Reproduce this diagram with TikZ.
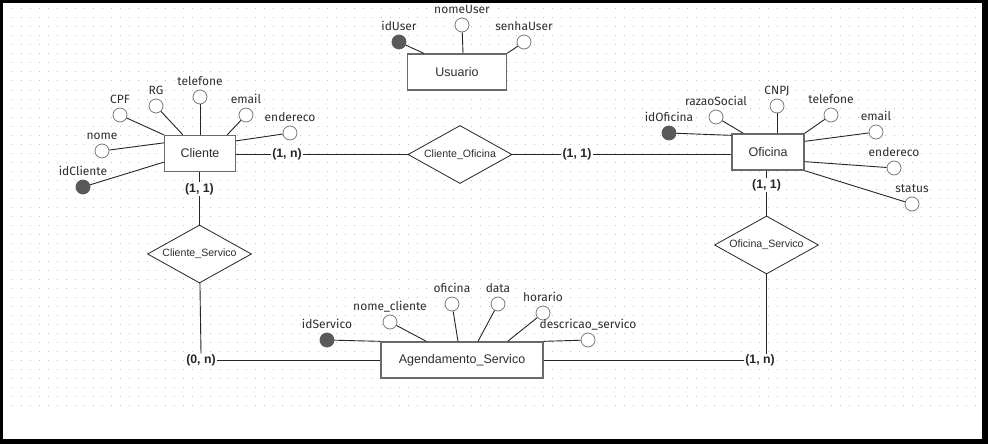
\documentclass[tikz,border=0pt]{standalone}
\usepackage{fontspec}
\setmainfont{Liberation Sans}
\newfontfamily\attrfont{Fira Sans}
\usepackage{tikz}
\usetikzlibrary{shapes.geometric}
\usetikzlibrary{positioning}

\definecolor{boxgray}{HTML}{6A6A6A}
\definecolor{circgray}{HTML}{7A7A7A}
\definecolor{keygray}{HTML}{595959}
\definecolor{txtgray}{HTML}{2E2E2E}
\definecolor{dotgray}{HTML}{C4C4C4}

\tikzset{
	entity/.style={rectangle, draw=boxgray, line width=1.3pt, fill=white, minimum height=36pt, text=txtgray, font=\fontsize{12.5}{14}\selectfont},
	relation/.style={diamond, draw=black!85, line width=0.8pt, fill=white, aspect=1.8, inner sep=0pt, minimum width=104pt, minimum height=58pt, text=txtgray, font=\fontsize{10.6}{12}\selectfont},
	attr/.style={circle, draw=circgray, line width=0.8pt, fill=white, inner sep=0pt, minimum size=14pt},
	keyattr/.style={attr, draw=keygray, fill=keygray},
	attrname/.style={inner sep=0pt, text height=9pt, text depth=3pt, text=txtgray, font=\attrfont\fontsize{12}{14}\selectfont},
	card/.style={fill=white, inner sep=1pt, text=black!85, font=\bfseries\fontsize{12.3}{14}\selectfont},
	edge/.style={draw=black!85, line width=0.9pt}
}

\begin{document}
\begin{tikzpicture}[x=1pt, y=-1pt]
		% frame and grid
		\useasboundingbox (0, 0) rectangle (988, 444);
		\fill[black] (0, 0) rectangle (988, 444);
		\fill[white] (3, 3) rectangle (982, 439);
		\foreach \y in {9, 18, ..., 405}
			\draw[dotgray, line width=1pt, dash pattern=on 1pt off 8pt] (11.8, \y) -- (977, \y);

		% entities
		\node[entity, minimum width=71pt] (cliente) at (200, 153.5) {Cliente};
		\node[entity, minimum width=99pt] (usuario) at (457, 72) {Usuario};
		\node[entity, minimum width=72pt] (oficina) at (768, 152) {Oficina};
		\node[entity, minimum width=162pt] (agend) at (462, 360) {Agendamento\_Servico};

		% relationships
		\node[relation] (clioff) at (460, 154.5) {Cliente\_Oficina};
		\node[relation] (cliserv) at (199.5, 254) {Cliente\_Servico};
		\node[relation] (ofiserv) at (766.5, 245) {Oficina\_Servico};

		% attributes
		\foreach \n/\x/\y/\t in {cpf/120/115/CPF, rg/156/106/RG, telcli/200/97/telefone, emailcli/246/115/email, endcli/290/133/endereco, nome/102/151/nome,
			nomeuser/462/25/nomeUser, senhauser/524/42/senhaUser,
			razao/716/117/razaoSocial, cnpj/777/106/CNPJ, telofi/831/115/telefone, emailofi/876/132/email, endofi/894/168/endereco, status/912/204/status,
			nomecli/390/322/nome\_cliente, oficinaag/452/304/oficina, data/498/304/data, horario/543/313/horario, descricao/588/340/descricao\_servico} {
			\node[attr] (\n) at (\x, \y) {};
			\node[attrname, above=1pt of \n] (\n-txt) {\t};
		}
		\foreach \n/\x/\y/\t in {idcliente/83/187/idCliente, iduser/399/42/idUser, idoficina/669/133/idOficina, idservico/327/340/idServico} {
			\node[keyattr] (\n) at (\x, \y) {};
			\node[attrname, above=1pt of \n] (\n-txt) {\t};
		}

		\draw[edge] (cpf) -- (cliente.north west);
		\draw[edge] (rg) -- ([xshift=19pt]cliente.north west);
		\draw[edge] (telcli) -- (cliente.north);
		\draw[edge] (emailcli) -- ([xshift=-9pt]cliente.north east);
		\draw[edge] (endcli) -- ([yshift=-6pt]cliente.north east);
		\draw[edge] (nome) -- ([yshift=-8pt]cliente.north west);
		\draw[edge] (idcliente) -- ([yshift=10pt]cliente.south west);

		\draw[edge] (iduser) -- ([xshift=17pt]usuario.north west);
		\draw[edge] (nomeuser) -- ([xshift=6pt]usuario.north);
		\draw[edge] (senhauser) -- (usuario.north east);

		\draw[edge] (idoficina) -- ([yshift=-2pt]oficina.north west);
		\draw[edge] (razao) -- ([xshift=12pt]oficina.north west);
		\draw[edge] (cnpj) -- ([xshift=9pt]oficina.north);
		\draw[edge] (telofi) -- (oficina.north east);
		\draw[edge] (emailofi) -- ([yshift=-8pt]oficina.north east);
		\draw[edge] (endofi) -- ([yshift=9pt]oficina.south east);
		\draw[edge] (status) -- (oficina.south east);

		\draw[edge] (idservico) -- (agend.north west);
		\draw[edge] (nomecli) -- ([xshift=46pt]agend.north west);
		\draw[edge] (oficinaag) -- ([xshift=-4pt]agend.north);
		\draw[edge] (data) -- ([xshift=16pt]agend.north);
		\draw[edge] (horario) -- ([xshift=-36pt]agend.north east);
		\draw[edge] (descricao) -- (agend.north east);

		% cardinalities
		\node[card] (c1) at (287, 154.5) {(1, n)};
		\node[card] (c2) at (577, 154.5) {(1, 1)};
		\node[card] (c3) at (199.5, 189) {(1, 1)};
		\node[card] (c4) at (201, 360.5) {(0, n)};
		\node[card] (c5) at (766.5, 185) {(1, 1)};
		\node[card] (c6) at (760, 360.5) {(1, n)};

		\draw[edge] (cliente.east |- c1) -- (c1) -- (clioff);
		\draw[edge] (clioff) -- (c2) -- (c2 -| oficina.west);
		\draw[edge] (cliente.south -| c3) -- (c3) -- (cliserv);
		\draw[edge] (cliserv) -- (c4.north);
		\draw[edge] (c4) -- (c4 -| agend.west);
		\draw[edge] (oficina.south -| c5) -- (c5) -- (ofiserv);
		\draw[edge] (ofiserv.south) -- (ofiserv.south |- c6.north);
		\draw[edge] (c6 -| agend.east) -- (c6);
	\end{tikzpicture}
\end{document}
